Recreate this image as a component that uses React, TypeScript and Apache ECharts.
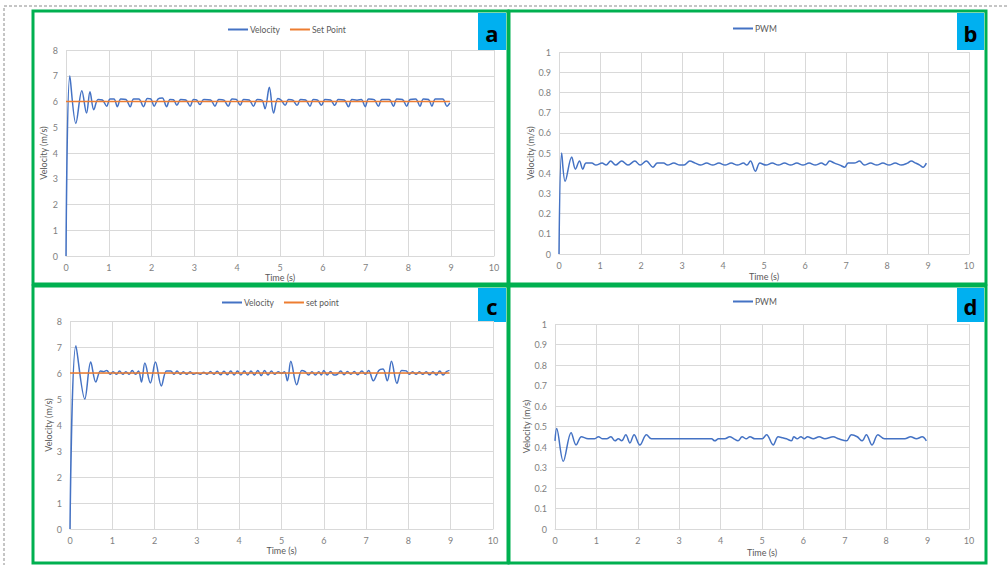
import React, { useEffect, useRef } from "react";
import * as echarts from "echarts";

// ---------- data ----------
const timeTicks = [0, 1, 2, 3, 4, 5, 6, 7, 8, 9, 10];

const aTime = [0, 0.09, 0.23, 0.37, 0.48, 0.56, 0.65, 0.75, 0.85, 0.95, 1.03, 1.12, 1.2, 1.28, 1.4, 1.5, 1.58, 1.7, 1.81, 1.9, 1.98, 2.06, 2.15, 2.25, 2.35, 2.43, 2.51, 2.59, 2.68, 2.8, 2.9, 2.98, 3.05, 3.13, 3.22, 3.38, 3.48, 3.57, 3.69, 3.79, 3.88, 3.98, 4.07, 4.15, 4.28, 4.38, 4.47, 4.58, 4.65, 4.75, 4.85, 4.95, 5.03, 5.12, 5.2, 5.3, 5.4, 5.48, 5.6, 5.7, 5.78, 5.88, 5.97, 6.05, 6.18, 6.28, 6.36, 6.5, 6.6, 6.68, 6.8, 6.9, 6.99, 7.07, 7.2, 7.3, 7.38, 7.55, 7.65, 7.73, 7.86, 7.96, 8.04, 8.17, 8.27, 8.35, 8.47, 8.55, 8.63, 8.8, 8.9, 8.97];
const aVelocity = [0, 7.0, 5.15, 6.42, 5.55, 6.38, 5.68, 6.08, 6.06, 5.82, 6.1, 6.1, 5.8, 6.1, 6.08, 5.8, 6.1, 6.1, 5.8, 6.12, 6.1, 5.82, 6.1, 6.14, 5.8, 6.08, 6.07, 5.85, 6.08, 6.06, 5.82, 6.08, 6.06, 5.88, 6.08, 6.06, 5.82, 6.08, 6.05, 5.82, 6.1, 6.08, 5.85, 6.08, 6.06, 5.82, 6.08, 6.05, 5.72, 6.55, 5.55, 6.12, 6.05, 5.85, 6.08, 6.05, 5.85, 6.08, 6.06, 5.82, 6.08, 6.05, 5.85, 6.08, 6.06, 5.85, 6.08, 6.06, 5.8, 6.08, 6.05, 6.08, 5.8, 6.1, 6.07, 5.82, 6.08, 6.08, 5.82, 6.1, 6.08, 5.82, 6.08, 6.1, 5.82, 6.1, 6.08, 5.82, 6.1, 6.1, 5.82, 5.95];
const aSetTime = [0, 8.97];
const aSetPoint = [6, 6];

const bTime = [0, 0.065, 0.15, 0.31, 0.4, 0.5, 0.58, 0.66, 0.8, 0.9, 1.05, 1.15, 1.26, 1.38, 1.53, 1.68, 1.85, 1.98, 2.13, 2.29, 2.4, 2.55, 2.65, 2.8, 2.95, 3.05, 3.19, 3.32, 3.45, 3.6, 3.75, 3.9, 4.05, 4.2, 4.35, 4.5, 4.58, 4.67, 4.79, 4.9, 5.05, 5.2, 5.35, 5.5, 5.65, 5.8, 5.95, 6.1, 6.25, 6.4, 6.5, 6.6, 6.72, 6.85, 6.97, 7.05, 7.2, 7.33, 7.45, 7.6, 7.75, 7.9, 8.05, 8.2, 8.35, 8.5, 8.59, 8.7, 8.8, 8.88, 8.96];
const bPWM = [0, 0.5, 0.36, 0.48, 0.42, 0.46, 0.42, 0.45, 0.45, 0.44, 0.45, 0.44, 0.46, 0.44, 0.46, 0.44, 0.46, 0.44, 0.46, 0.43, 0.45, 0.45, 0.44, 0.45, 0.44, 0.44, 0.46, 0.45, 0.44, 0.45, 0.44, 0.45, 0.44, 0.45, 0.44, 0.45, 0.44, 0.46, 0.41, 0.45, 0.44, 0.45, 0.44, 0.45, 0.44, 0.45, 0.44, 0.45, 0.44, 0.45, 0.44, 0.46, 0.45, 0.44, 0.43, 0.45, 0.45, 0.46, 0.44, 0.45, 0.44, 0.45, 0.44, 0.45, 0.44, 0.45, 0.46, 0.45, 0.44, 0.43, 0.45];

const cTime = [0, 0.14, 0.35, 0.49, 0.61, 0.72, 0.8, 0.87, 0.95, 1.02, 1.1, 1.17, 1.25, 1.32, 1.4, 1.47, 1.55, 1.62, 1.69, 1.77, 1.9, 2.02, 2.16, 2.28, 2.38, 2.46, 2.53, 2.61, 2.68, 2.76, 2.84, 2.92, 3.0, 3.08, 3.16, 3.24, 3.32, 3.4, 3.48, 3.56, 3.64, 3.72, 3.8, 3.88, 3.96, 4.04, 4.12, 4.2, 4.28, 4.36, 4.44, 4.52, 4.6, 4.68, 4.76, 4.84, 4.92, 5.0, 5.07, 5.14, 5.22, 5.36, 5.48, 5.56, 5.64, 5.72, 5.8, 5.88, 5.94, 6.0, 6.08, 6.16, 6.24, 6.32, 6.4, 6.48, 6.56, 6.64, 6.72, 6.8, 6.9, 6.98, 7.06, 7.17, 7.3, 7.4, 7.5, 7.6, 7.73, 7.84, 7.95, 8.02, 8.1, 8.18, 8.26, 8.34, 8.42, 8.5, 8.58, 8.66, 8.74, 8.82, 8.9, 8.97];
const cVelocity = [0, 7.05, 5.0, 6.42, 5.65, 6.08, 6.05, 6.1, 5.95, 6.05, 5.95, 6.08, 5.95, 6.05, 5.95, 6.1, 5.95, 6.08, 5.65, 6.38, 5.62, 6.42, 5.5, 6.08, 6.08, 5.95, 6.08, 5.95, 6.05, 5.95, 6.05, 5.95, 6.0, 5.95, 6.03, 5.95, 6.06, 5.95, 6.07, 5.93, 6.07, 5.93, 6.08, 5.92, 6.08, 5.92, 6.08, 5.92, 6.08, 5.92, 6.1, 5.9, 6.1, 5.92, 6.08, 5.95, 6.05, 5.98, 6.05, 5.7, 6.45, 5.55, 6.1, 6.05, 5.92, 6.05, 5.92, 6.05, 5.92, 6.1, 5.92, 6.06, 5.92, 5.95, 6.08, 5.93, 6.06, 5.95, 6.06, 5.93, 6.08, 5.95, 6.1, 5.7, 6.1, 6.15, 5.7, 6.45, 5.6, 6.1, 6.08, 5.95, 6.05, 5.95, 6.05, 5.95, 6.05, 5.93, 6.05, 5.92, 6.08, 5.92, 6.05, 6.1];
const cSetTime = [0, 8.97];
const cSetPoint = [6, 6];

const dTime = [0, 0.04, 0.2, 0.39, 0.51, 0.64, 0.8, 0.95, 1.05, 1.15, 1.25, 1.35, 1.45, 1.53, 1.61, 1.71, 1.81, 1.91, 2.05, 2.21, 2.33, 2.6, 3.0, 3.4, 3.78, 3.86, 3.95, 4.1, 4.22, 4.32, 4.42, 4.52, 4.62, 4.71, 4.83, 5.0, 5.11, 5.27, 5.39, 5.5, 5.59, 5.71, 5.77, 5.85, 5.94, 6.02, 6.1, 6.24, 6.38, 6.52, 6.72, 6.85, 7.04, 7.16, 7.3, 7.42, 7.52, 7.66, 7.8, 7.96, 8.2, 8.45, 8.59, 8.73, 8.87, 8.97];
const dPWM = [0.43, 0.49, 0.33, 0.47, 0.41, 0.45, 0.44, 0.44, 0.45, 0.44, 0.44, 0.45, 0.43, 0.44, 0.43, 0.46, 0.42, 0.46, 0.41, 0.46, 0.44, 0.44, 0.44, 0.44, 0.44, 0.43, 0.44, 0.44, 0.45, 0.44, 0.43, 0.45, 0.44, 0.45, 0.44, 0.44, 0.46, 0.41, 0.45, 0.445, 0.44, 0.43, 0.45, 0.44, 0.45, 0.44, 0.45, 0.44, 0.45, 0.44, 0.45, 0.44, 0.43, 0.46, 0.45, 0.43, 0.46, 0.41, 0.46, 0.44, 0.44, 0.44, 0.45, 0.44, 0.45, 0.43];

const panelLetters = ["a", "b", "c", "d"];

// ---------- styling ----------
const BLUE = "#4472c4";
const ORANGE = "#ed7d31";
const GRID_LINE = "#d9d9d9";
const LABEL = "#7f7f7f";
const NAME = "#595959";
const GREEN = "#00b050";
const BOX = "#00b0f0";
const FONT = "Lato, 'Liberation Sans', sans-serif";

const pairs = (t: number[], v: number[]) => t.map((x, i) => [x, v[i]]);

const grids = [
  { left: 66, top: 50, width: 428, height: 206 },
  { left: 559, top: 52, width: 410, height: 202 },
  { left: 70, top: 321, width: 423, height: 208 },
  { left: 555, top: 324, width: 414, height: 205 },
];
const yMax = [8, 1, 8, 1];
const yInt = [1, 0.1, 1, 0.1];
const xNameGap = [16, 18, 17, 19];
const yNameGap = [18, 23, 16, 22];

const panels = [
  { x: 33, y: 11, w: 475, h: 273 },
  { x: 509, y: 11, w: 477, h: 273 },
  { x: 33, y: 286, w: 475, h: 277 },
  { x: 509, y: 286, w: 477, h: 277 },
];
const boxes = [
  { x: 478, y: 13, w: 28, h: 37 },
  { x: 957, y: 13, w: 27, h: 37 },
  { x: 478, y: 288, w: 28, h: 34 },
  { x: 957, y: 288, w: 27, h: 34 },
];

export default function App() {
  const ref = useRef<HTMLDivElement>(null);
  useEffect(() => {
    if (!ref.current) return;
    const chart = echarts.init(ref.current, undefined, { renderer: "svg" });

    const xAxis = grids.map((_, i) => ({
      type: "value",
      gridIndex: i,
      min: timeTicks[0],
      max: timeTicks[timeTicks.length - 1],
      interval: 1,
      name: "Time (s)",
      nameLocation: "middle",
      nameGap: xNameGap[i],
      nameTextStyle: { color: NAME, fontSize: 9, fontFamily: FONT },
      axisLine: { show: true, lineStyle: { color: GRID_LINE } },
      axisTick: { show: false },
      axisLabel: { color: LABEL, fontSize: 9, fontFamily: FONT, margin: 7 },
      splitLine: { show: true, lineStyle: { color: GRID_LINE, width: 1 } },
    }));
    const yAxis = grids.map((_, i) => ({
      type: "value",
      gridIndex: i,
      min: 0,
      max: yMax[i],
      interval: yInt[i],
      name: "Velocity (m/s)",
      nameLocation: "middle",
      nameGap: yNameGap[i],
      nameTextStyle: { color: NAME, fontSize: 9, fontFamily: FONT },
      axisLine: { show: false },
      axisTick: { show: false },
      axisLabel: { color: LABEL, fontSize: 9, fontFamily: FONT, margin: 8 },
      splitLine: { show: true, lineStyle: { color: GRID_LINE, width: 1 } },
    }));

    const lineSeries = (name: string, i: number, data: number[][], color: string) => ({
      type: "line",
      name,
      xAxisIndex: i,
      yAxisIndex: i,
      data,
      smooth: 0.35,
      showSymbol: false,
      symbol: "none",
      lineStyle: { color, width: 1.5 },
      itemStyle: { color },
      z: color === ORANGE ? 3 : 2,
    });

    const series = [
      lineSeries("Velocity", 0, pairs(aTime, aVelocity), BLUE),
      lineSeries("Set Point", 0, pairs(aSetTime, aSetPoint), ORANGE),
      lineSeries("PWM", 1, pairs(bTime, bPWM), BLUE),
      lineSeries("Velocity", 2, pairs(cTime, cVelocity), BLUE),
      lineSeries("set point", 2, pairs(cSetTime, cSetPoint), ORANGE),
      lineSeries("PWM", 3, pairs(dTime, dPWM), BLUE),
    ];

    const legendBase = {
      icon: "rect",
      itemWidth: 20,
      itemHeight: 2,
      itemGap: 10,
      textStyle: { color: NAME, fontSize: 8.5, fontFamily: FONT, padding: [0, 0, 0, -3] },
      selectedMode: false,
    };
    const legend = [
      { ...legendBase, data: ["Velocity", "Set Point"], left: 223, top: 20 },
      { ...legendBase, data: ["PWM"], left: 728, top: 19 },
      { ...legendBase, data: ["Velocity", "set point"], left: 217, top: 293 },
      { ...legendBase, data: ["PWM"], left: 728, top: 292 },
    ];

    const graphic: any[] = [
      {
        type: "rect",
        shape: { x: 4, y: 6, width: 1010, height: 570 },
        style: { fill: "none", stroke: "#8c8c8c", lineWidth: 1, lineDash: [3, 2] },
        silent: true,
      },
      ...panels.map((p) => ({
        type: "rect",
        shape: { x: p.x, y: p.y, width: p.w, height: p.h },
        style: { fill: "none", stroke: GREEN, lineWidth: 3 },
        silent: true,
        z: 10,
      })),
      ...boxes.map((b, i) => ({
        type: "group",
        z: 11,
        children: [
          {
            type: "rect",
            shape: { x: b.x, y: b.y, width: b.w, height: b.h },
            style: { fill: BOX },
          },
          {
            type: "text",
            x: b.x + b.w / 2,
            y: b.y + b.h / 2 + 1,
            style: {
              text: panelLetters[i],
              fill: "#000",
              font: `bold 22px 'Open Sans', 'Liberation Sans', sans-serif`,
              textAlign: "center",
              textVerticalAlign: "middle",
            },
          },
        ],
      })),
    ];

    chart.setOption({
      animation: false,
      backgroundColor: "#ffffff",
      grid: grids.map((g) => ({ ...g, containLabel: false })),
      xAxis,
      yAxis,
      legend,
      series,
      graphic,
    });
    return () => chart.dispose();
  }, []);

  return (
    <div
      ref={ref}
      style={{ position: "absolute", left: 0, top: 0, width: 1008, height: 565, background: "#fff" }}
    />
  );
}
